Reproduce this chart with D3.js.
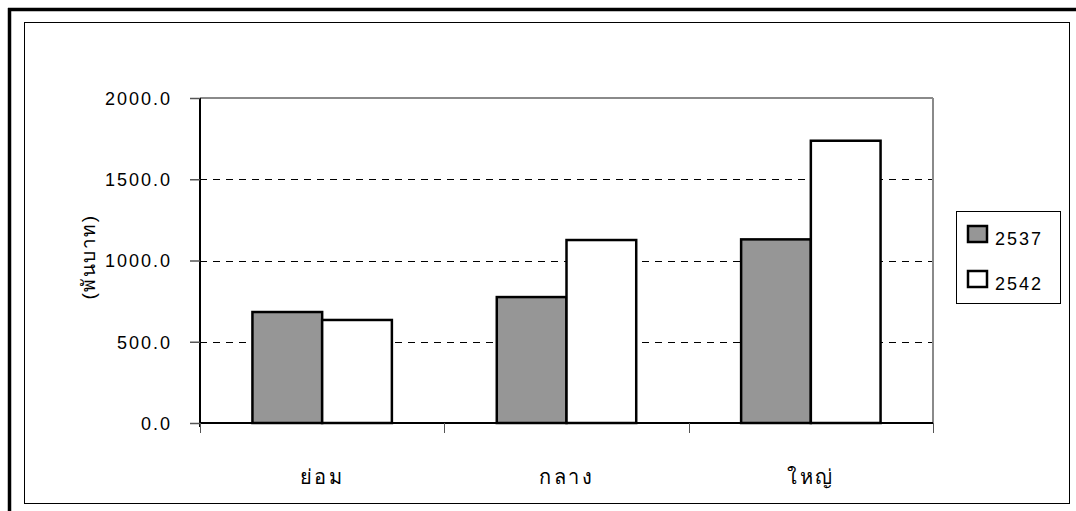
<!DOCTYPE html>
<html><head><meta charset="utf-8">
<script src="https://cdn.jsdelivr.net/npm/d3@7"></script>
<style>
html,body{margin:0;padding:0;background:#fff;}
text{font-family:"Liberation Sans",Arial,sans-serif;fill:#000;}
</style></head>
<body>
<svg id="c" width="1076" height="511"></svg>
<script>
const categories = ["ย่อม", "กลาง", "ใหญ่"];
const seriesNames = ["2537", "2542"];
const values2537 = [683, 775, 1130];
const values2542 = [634, 1126, 1737];
const yTicks = [0, 500, 1000, 1500, 2000];
const yTitle = "(พันบาท)";
const colors = ["#969696", "#ffffff"];

const svg = d3.select("#c");
svg.append("rect").attr("x",0).attr("y",0).attr("width",1076).attr("height",511).attr("fill","#fff");
svg.append("line").attr("x1",8).attr("x2",1076).attr("y1",9.5).attr("y2",9.5).attr("stroke","#000").attr("stroke-width",3.5);
svg.append("line").attr("x1",9.5).attr("x2",9.5).attr("y1",8).attr("y2",511).attr("stroke","#000").attr("stroke-width",3.5);
svg.append("rect").attr("x",24.5).attr("y",22.5).attr("width",1045).attr("height",481)
  .attr("fill","none").attr("stroke","#000").attr("stroke-width",1);

const m = {l:200, t:98, r:933, b:423};
const x0 = d3.scaleBand().domain(categories).range([m.l, m.r]).paddingInner(0.4293).paddingOuter(0.2146);
const x1 = d3.scaleBand().domain(seriesNames).range([0, x0.bandwidth()]);
const y = d3.scaleLinear().domain([0, 2000]).range([m.b, m.t]);

svg.append("g").selectAll("line").data(yTicks.filter(d=>d>0 && d<2000)).join("line")
  .attr("x1",m.l).attr("x2",m.r).attr("y1",d=>Math.round(y(d))+0.5).attr("y2",d=>Math.round(y(d))+0.5)
  .attr("stroke","#000").attr("stroke-width",1).attr("stroke-dasharray","7,6");

svg.append("line").attr("x1",m.l).attr("x2",m.r).attr("y1",m.t).attr("y2",m.t).attr("stroke","#8a8a8a").attr("stroke-width",2);
svg.append("line").attr("x1",m.r).attr("x2",m.r).attr("y1",m.t).attr("y2",m.b).attr("stroke","#8a8a8a").attr("stroke-width",2);

const data = categories.map((c,i)=>({c, v:[values2537[i], values2542[i]]}));
const g = svg.append("g").selectAll("g").data(data).join("g").attr("transform",d=>`translate(${x0(d.c)},0)`);
g.selectAll("rect").data(d=>d.v.map((v,j)=>({s:seriesNames[j], v, j}))).join("rect")
  .attr("x",d=>x1(d.s)).attr("width",x1.bandwidth())
  .attr("y",d=>y(d.v)).attr("height",d=>y(0)-y(d.v))
  .attr("fill",d=>colors[d.j]).attr("stroke","#000").attr("stroke-width",2.5);

const ya = svg.append("g").attr("transform",`translate(${m.l},0)`)
  .call(d3.axisLeft(y).tickValues(yTicks).tickFormat(d3.format(".1f")).tickSize(10).tickPadding(18));
ya.select(".domain").attr("stroke","#000").attr("stroke-width",2).attr("d",`M0,${m.t}V${m.b+4}`);
ya.selectAll(".tick line").attr("stroke","#555").attr("stroke-width",1.5);
ya.selectAll(".tick text").attr("font-size",18).attr("letter-spacing","2px")
  .attr("font-family","'Liberation Sans',Arial,sans-serif").attr("fill","#000").attr("dy","0.36em");

const xa = svg.append("g").attr("transform",`translate(0,${m.b})`);
const xs = d3.scaleLinear().domain([0,3]).range([m.l,m.r]);
xa.append("line").attr("x1",m.l).attr("x2",m.r).attr("y1",0).attr("y2",0).attr("stroke","#000").attr("stroke-width",2);
xa.selectAll("line.t").data([0,1,2,3]).join("line").attr("class","t")
  .attr("x1",d=>Math.round(xs(d))+0.5).attr("x2",d=>Math.round(xs(d))+0.5).attr("y1",0).attr("y2",10)
  .attr("stroke","#555").attr("stroke-width",1);
xa.selectAll("text").data(categories).join("text")
  .attr("x",d=>x0(d)+x0.bandwidth()/2).attr("y",61)
  .attr("text-anchor","middle").attr("font-size",20).attr("font-weight",300).attr("letter-spacing","2.5px").text(d=>d);

svg.append("text").attr("transform","translate(95,257) rotate(-90)").attr("text-anchor","middle")
  .attr("font-size",19).attr("letter-spacing","1.5px").text(yTitle);

const lg = svg.append("g");
lg.append("rect").attr("x",956.5).attr("y",211.5).attr("width",104).attr("height",92).attr("fill","#fff").attr("stroke","#000").attr("stroke-width",1);
const li = lg.selectAll("g").data(seriesNames).join("g").attr("transform",(d,i)=>`translate(0,${i*45})`);
li.append("rect").attr("x",968).attr("y",226).attr("width",19).attr("height",16).attr("fill",(d,i)=>colors[i]).attr("stroke","#000").attr("stroke-width",2.5);
li.append("text").attr("x",995).attr("y",245).attr("font-size",18).attr("letter-spacing","2px").text(d=>d);
</script>
</body></html>
